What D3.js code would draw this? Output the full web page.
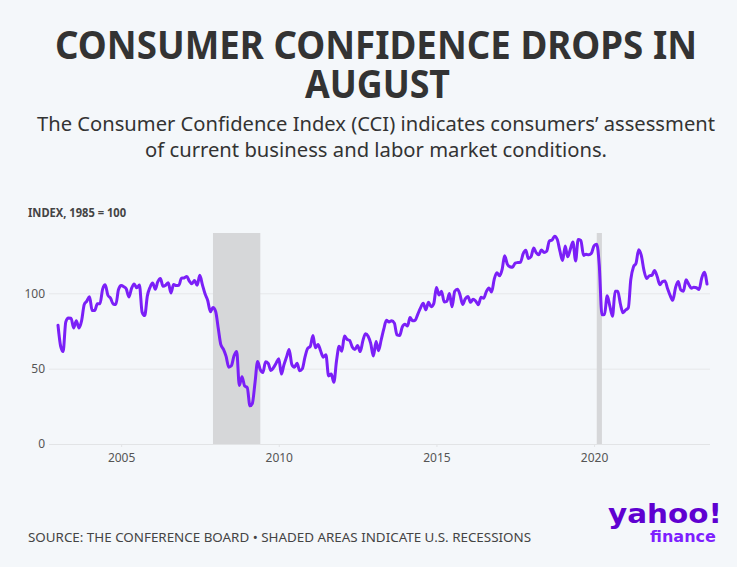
<!DOCTYPE html>
<html>
<head>
<meta charset="utf-8">
<script src="https://cdn.jsdelivr.net/npm/d3@7"></script>
<style>
  html, body { margin: 0; padding: 0; background: #f4f7fa; }
  svg { display: block; }
</style>
</head>
<body>
<svg id="chart" width="737" height="567"></svg>
<script>
// ---- Data (Conference Board Consumer Confidence Index, monthly, Jan 2003 - Aug 2023) ----
const startYear = 2003;
const cci2003 = [78.8, 64.8, 61.4, 81.0, 83.6, 83.5, 77.0, 81.7, 77.0, 81.7, 92.5, 94.8];
const cci2004 = [97.7, 88.5, 88.5, 93.0, 93.1, 102.8, 105.7, 98.7, 96.7, 92.9, 92.6, 102.3];
const cci2005 = [105.1, 104.4, 103.0, 97.5, 103.1, 106.2, 103.6, 105.5, 87.5, 85.2, 98.3, 103.8];
const cci2006 = [106.8, 102.7, 107.5, 109.8, 104.7, 105.4, 107.0, 100.2, 105.9, 105.1, 105.3, 110.0];
const cci2007 = [110.2, 111.2, 108.2, 106.3, 108.5, 105.3, 111.9, 105.6, 99.5, 95.2, 87.8, 90.6];
const cci2008 = [87.9, 76.4, 65.9, 62.8, 58.1, 51.0, 51.9, 58.5, 61.4, 38.8, 44.7, 38.6];
const cci2009 = [37.4, 25.3, 26.9, 40.8, 54.8, 49.3, 47.4, 54.5, 53.4, 48.7, 50.6, 53.6];
const cci2010 = [56.5, 46.4, 52.3, 57.7, 62.7, 52.9, 51.0, 53.5, 48.6, 49.9, 57.8, 63.4];
const cci2011 = [64.8, 72.0, 63.8, 66.0, 61.7, 57.6, 59.2, 45.2, 46.4, 40.9, 55.2, 64.8];
const cci2012 = [61.5, 71.6, 69.5, 68.7, 64.4, 62.7, 65.4, 61.3, 68.4, 73.1, 71.5, 66.7];
const cci2013 = [58.4, 68.0, 61.9, 69.0, 76.2, 82.1, 81.0, 81.8, 80.2, 72.4, 72.0, 77.5];
const cci2014 = [79.4, 78.3, 83.9, 81.7, 82.2, 86.4, 90.3, 93.4, 89.0, 94.1, 91.0, 93.1];
const cci2015 = [103.8, 98.8, 101.4, 94.3, 94.6, 99.8, 91.0, 101.3, 102.6, 99.1, 92.6, 96.3];
const cci2016 = [97.8, 94.0, 96.1, 94.7, 92.4, 97.4, 96.7, 101.1, 103.5, 100.8, 109.4, 113.7];
const cci2017 = [111.6, 116.1, 124.9, 119.4, 117.6, 117.3, 120.0, 120.4, 120.6, 126.2, 128.6, 123.1];
const cci2018 = [124.3, 130.0, 127.0, 125.6, 128.8, 127.1, 127.9, 134.7, 135.3, 137.9, 135.7, 128.1];
const cci2019 = [121.7, 131.4, 124.2, 129.2, 134.1, 121.5, 135.7, 135.1, 125.1, 125.9, 125.5, 126.5];
const cci2020 = [131.6, 132.6, 118.8, 85.7, 85.9, 98.3, 91.7, 84.8, 101.3, 101.4, 92.9, 87.1];
const cci2021 = [88.9, 90.4, 109.0, 117.5, 120.0, 128.9, 125.1, 115.2, 109.8, 111.6, 111.9, 115.2];
const cci2022 = [111.1, 105.7, 107.6, 108.2, 103.2, 98.4, 95.3, 103.6, 107.8, 102.2, 101.4, 109.0];
const cci2023 = [106.0, 103.4, 104.0, 103.7, 102.5, 110.1, 114.0, 106.1];

// Recessions (start, end) as ISO dates
const recessionStarts = ["2007-12-01", "2020-02-01"];
const recessionEnds   = ["2009-06-01", "2020-04-01"];

const yTicks = [0, 50, 100];
const xTickYears = [2005, 2010, 2015, 2020];

const titleLines = ["CONSUMER CONFIDENCE DROPS IN", "AUGUST"];
const subtitleLines = [
  "The Consumer Confidence Index (CCI) indicates consumers\u2019 assessment",
  "of current business and labor market conditions."
];
const yAxisLabel = "INDEX, 1985 = 100";
const sourceText = "SOURCE: THE CONFERENCE BOARD \u2022 SHADED AREAS INDICATE U.S. RECESSIONS";

// ---- Build series ----
const allYears = [cci2003, cci2004, cci2005, cci2006, cci2007, cci2008, cci2009, cci2010, cci2011,
  cci2012, cci2013, cci2014, cci2015, cci2016, cci2017, cci2018, cci2019, cci2020, cci2021, cci2022, cci2023];
const series = [];
allYears.forEach((arr, i) => {
  arr.forEach((v, m) => series.push({ date: new Date(startYear + i, m, 1), value: v }));
});

// ---- Layout ----
const svg = d3.select("#chart");
const W = 737, H = 567;
svg.append("rect").attr("width", W).attr("height", H).attr("fill", "#f4f7fa");

const x = d3.scaleTime()
  .domain([new Date(2003, 0, 1), new Date(2023, 7, 1)])
  .range([58, 707]);
const y = d3.scaleLinear().domain([0, 140]).range([444, 233]);

// Title
const titleFont = "'Noto Sans', 'Open Sans', sans-serif";
svg.append("text").attr("x", 376).attr("y", 59).attr("text-anchor", "middle")
  .attr("font-family", titleFont).attr("font-weight", 700).attr("font-size", 39)
  .attr("fill", "#333333").attr("textLength", 642).attr("lengthAdjust", "spacingAndGlyphs")
  .text(titleLines[0]);
svg.append("text").attr("x", 377.5).attr("y", 98).attr("text-anchor", "middle")
  .attr("font-family", titleFont).attr("font-weight", 700).attr("font-size", 39)
  .attr("fill", "#333333").attr("textLength", 145).attr("lengthAdjust", "spacingAndGlyphs")
  .text(titleLines[1]);

// Subtitle
const subFont = "'Noto Sans', 'Open Sans', sans-serif";
svg.append("text").attr("x", 376).attr("y", 131).attr("text-anchor", "middle")
  .attr("font-family", subFont).attr("font-size", 20).attr("fill", "#333333")
  .attr("textLength", 678).attr("lengthAdjust", "spacingAndGlyphs")
  .text(subtitleLines[0]);
svg.append("text").attr("x", 376).attr("y", 157).attr("text-anchor", "middle")
  .attr("font-family", subFont).attr("font-size", 20).attr("fill", "#333333")
  .attr("textLength", 462).attr("lengthAdjust", "spacingAndGlyphs")
  .text(subtitleLines[1]);

// Y axis label
svg.append("text").attr("x", 28).attr("y", 217)
  .attr("font-family", titleFont).attr("font-weight", 700).attr("font-size", 13)
  .attr("fill", "#444444").attr("textLength", 98).attr("lengthAdjust", "spacingAndGlyphs")
  .text(yAxisLabel);

// Gridlines + y axis labels
const yAxis = d3.axisLeft(y).tickValues(yTicks).tickSize(-(710 - 49)).tickPadding(4);
const gy = svg.append("g").attr("transform", "translate(49,0)").call(yAxis);
gy.select(".domain").remove();
gy.selectAll(".tick line").attr("stroke", "#e6e8ea").attr("stroke-width", 1);
gy.selectAll(".tick text").attr("font-family", subFont).attr("font-size", 12)
  .attr("fill", "#555555").attr("x", -4);

// Recession shading
const rec = recessionStarts.map((s, i) => ({ s: new Date(s), e: new Date(recessionEnds[i]) }));
svg.append("g").selectAll("rect").data(rec).join("rect")
  .attr("x", d => x(d.s))
  .attr("width", d => Math.max(4.5, x(d.e) - x(d.s)))
  .attr("y", y(140)).attr("height", y(0) - y(140))
  .attr("fill", "#d6d7d9");

// X axis
const xAxis = d3.axisBottom(x)
  .tickValues(xTickYears.map(yr => new Date(yr, 0, 1)))
  .tickFormat(d3.timeFormat("%Y")).tickSize(3).tickPadding(6);
const gx = svg.append("g").attr("transform", "translate(0,444)").call(xAxis);
gx.select(".domain").attr("d", "M49,0.5H710").attr("stroke", "#e2e4e6");
gx.selectAll(".tick line").attr("stroke", "#e2e4e6");
gx.selectAll(".tick text").attr("font-family", subFont).attr("font-size", 12).attr("fill", "#555555");

// Line
const line = d3.line().x(d => x(d.date)).y(d => y(d.value)).curve(d3.curveMonotoneX);
svg.append("path").datum(series).attr("d", line)
  .attr("fill", "none").attr("stroke", "#7b1ff7").attr("stroke-width", 3)
  .attr("stroke-linejoin", "round").attr("stroke-linecap", "round");

// Source
svg.append("text").attr("x", 28).attr("y", 542)
  .attr("font-family", subFont).attr("font-size", 13).attr("fill", "#444444")
  .attr("textLength", 503).attr("lengthAdjust", "spacingAndGlyphs")
  .text(sourceText);

// Logo
svg.append("text").attr("x", 608).attr("y", 523)
  .attr("font-family", "'DejaVu Sans', sans-serif").attr("font-weight", 900).attr("font-size", 27)
  .attr("fill", "#5f01d1").attr("textLength", 114).attr("lengthAdjust", "spacingAndGlyphs")
  .text("yahoo!");
svg.append("text").attr("x", 650).attr("y", 542)
  .attr("font-family", "'DejaVu Sans', sans-serif").attr("font-weight", 700).attr("font-size", 16)
  .attr("fill", "#7e1fff").attr("textLength", 66).attr("lengthAdjust", "spacingAndGlyphs")
  .text("finance");
</script>
</body>
</html>
